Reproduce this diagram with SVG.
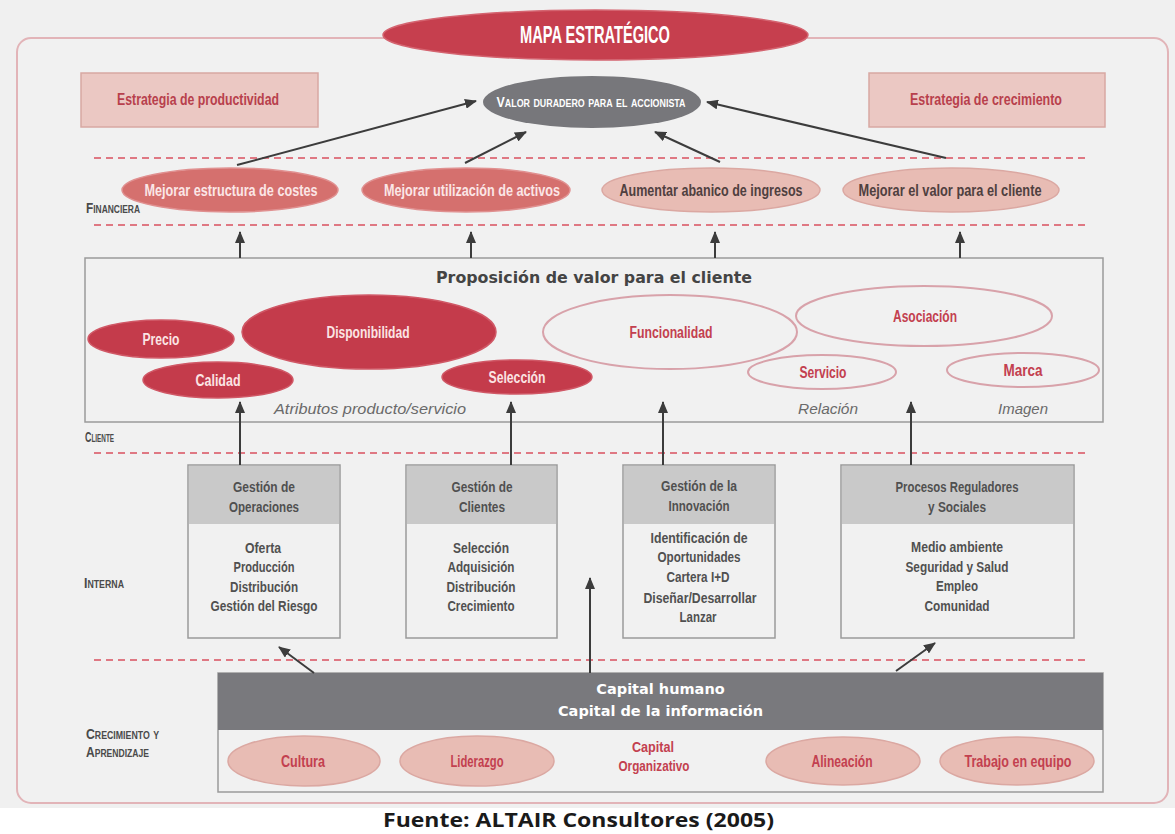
<svg xmlns="http://www.w3.org/2000/svg" width="1175" height="834" viewBox="0 0 1175 834">
<defs>
<style>
.t{font-family:"Liberation Sans",Arial,sans-serif;font-weight:bold;text-anchor:middle}
.lab{font-family:"Liberation Sans",Arial,sans-serif;font-weight:bold;font-variant:small-caps;fill:#4a4a4a;font-size:14px}
.dash{stroke:#d9505f;stroke-width:1.6;stroke-dasharray:7 5;fill:none}
.arr{stroke:#3c3c3c;stroke-width:2;fill:none;marker-end:url(#ah)}
.dred{fill:#c43b4b;stroke:#d05866;stroke-width:1.5}
.sal{fill:#d5706e;stroke:#e09090;stroke-width:1.5}
.pk{fill:#e8bcb4;stroke:#dba8a2;stroke-width:1.5}
.ol{fill:none;stroke:#d8a2aa;stroke-width:2}
.box{fill:#f1f1f1;stroke:#9a9a9a;stroke-width:1.5}
.hdr{fill:#c9c9c9}
.bt{font-family:"Liberation Sans",Arial,sans-serif;font-weight:bold;text-anchor:middle;font-size:14px;fill:#505050}
.it{font-family:"Liberation Sans",Arial,sans-serif;font-style:italic;fill:#6a6a6a;font-size:15px;text-anchor:middle}
</style>
<marker id="ah" viewBox="0 0 12 10" refX="11" refY="5" markerWidth="12" markerHeight="10" markerUnits="userSpaceOnUse" orient="auto">
<path d="M0,0 L12,5 L0,10 z" fill="#3c3c3c"/>
</marker>
</defs>
<rect x="0" y="0" width="1175" height="808" fill="#f0f0f0"/>
<rect x="0" y="808" width="1175" height="26" fill="#ffffff"/>
<rect x="17" y="38" width="1151" height="765" rx="14" ry="14" fill="#f1f1f1" stroke="#e2b4b8" stroke-width="2"/>

<g id="title">
<ellipse cx="595.5" cy="35" rx="212.5" ry="25" fill="#c63f4e" stroke="#d46470" stroke-width="1.5"/>
<text class="t" x="595" y="43" font-size="24" fill="#ffffff" textLength="150" lengthAdjust="spacingAndGlyphs">MAPA ESTRATÉGICO</text>
</g>

<g id="estrategia-productividad">
<rect x="81" y="73" width="237" height="54" fill="#ebc8c3" stroke="#d8a8a3" stroke-width="1.5"/>
<text class="t" x="198" y="105" font-size="17" fill="#b8404c" textLength="162" lengthAdjust="spacingAndGlyphs">Estrategia de productividad</text>
</g>
<g id="estrategia-crecimiento">
<rect x="869" y="73" width="236" height="54" fill="#ebc8c3" stroke="#d8a8a3" stroke-width="1.5"/>
<text class="t" x="986" y="105" font-size="17" fill="#b8404c" textLength="152" lengthAdjust="spacingAndGlyphs">Estrategia de crecimiento</text>
</g>
<g id="valor">
<ellipse cx="592" cy="102" rx="109" ry="26" fill="#77777b"/>
<text class="t" x="591" y="107" font-size="14" fill="#ffffff" style="font-variant:small-caps" textLength="189" lengthAdjust="spacingAndGlyphs">Valor duradero para el accionista</text>
</g>

<g id="separadores">
<line class="dash" x1="94" y1="158" x2="1088" y2="158"/>
<line class="dash" x1="94" y1="225" x2="1088" y2="225"/>
<line class="dash" x1="94" y1="453" x2="1088" y2="453"/>
<line class="dash" x1="94" y1="660" x2="1088" y2="660"/>
</g>

<g id="perspectivas">
<text class="lab" x="86" y="213" textLength="54" lengthAdjust="spacingAndGlyphs">Financiera</text>
<text class="lab" x="85" y="442" textLength="29" lengthAdjust="spacingAndGlyphs">Cliente</text>
<text class="lab" x="84" y="588" textLength="40" lengthAdjust="spacingAndGlyphs">Interna</text>
<text class="lab" x="86" y="739" textLength="73" lengthAdjust="spacingAndGlyphs">Crecimiento y</text>
<text class="lab" x="86" y="757" textLength="63" lengthAdjust="spacingAndGlyphs">Aprendizaje</text>
</g>

<g id="fin-costes">
<ellipse class="sal" cx="230" cy="190" rx="108" ry="22"/>
<text class="t" x="231" y="196" font-size="16" fill="#fbe6e6" textLength="173" lengthAdjust="spacingAndGlyphs">Mejorar estructura de costes</text>
</g>
<g id="fin-activos">
<ellipse class="sal" cx="466" cy="190" rx="104" ry="22"/>
<text class="t" x="472" y="196" font-size="16" fill="#fbe6e6" textLength="176" lengthAdjust="spacingAndGlyphs">Mejorar utilización de activos</text>
</g>
<g id="fin-ingresos">
<ellipse class="pk" cx="711" cy="190" rx="109" ry="22"/>
<text class="t" x="711" y="196" font-size="16" fill="#4f4040" textLength="183" lengthAdjust="spacingAndGlyphs">Aumentar abanico de ingresos</text>
</g>
<g id="fin-valor">
<ellipse class="pk" cx="951" cy="190" rx="108" ry="22"/>
<text class="t" x="950" y="196" font-size="16" fill="#4f4040" textLength="183" lengthAdjust="spacingAndGlyphs">Mejorar el valor para el cliente</text>
</g>

<g id="proposicion">
<rect x="85" y="258" width="1018" height="164" fill="none" stroke="#9a9a9a" stroke-width="1.5"/>
<text x="594" y="283" font-family="'DejaVu Sans','Liberation Sans',sans-serif" font-weight="bold" font-size="16.5" fill="#444444" text-anchor="middle" textLength="316" lengthAdjust="spacingAndGlyphs">Proposición de valor para el cliente</text>
<text class="it" x="370" y="414" textLength="192" lengthAdjust="spacingAndGlyphs">Atributos producto/servicio</text>
<text class="it" x="828" y="414" textLength="60" lengthAdjust="spacingAndGlyphs">Relación</text>
<text class="it" x="1023" y="414" textLength="50" lengthAdjust="spacingAndGlyphs">Imagen</text>
</g>
<g id="precio">
<ellipse class="dred" cx="161" cy="339" rx="73" ry="19"/>
<text class="t" x="161" y="345" font-size="16" fill="#fbe4e4" textLength="37" lengthAdjust="spacingAndGlyphs">Precio</text>
</g>
<g id="disponibilidad">
<ellipse class="dred" cx="369" cy="332" rx="127" ry="37"/>
<text class="t" x="368" y="338" font-size="16" fill="#fbe4e4" textLength="83" lengthAdjust="spacingAndGlyphs">Disponibilidad</text>
</g>
<g id="calidad">
<ellipse class="dred" cx="218" cy="380" rx="75" ry="18"/>
<text class="t" x="218" y="386" font-size="16" fill="#fbe4e4" textLength="45" lengthAdjust="spacingAndGlyphs">Calidad</text>
</g>
<g id="seleccion">
<ellipse class="dred" cx="517" cy="377" rx="75" ry="17"/>
<text class="t" x="517" y="383" font-size="16" fill="#fbe4e4" textLength="57" lengthAdjust="spacingAndGlyphs">Selección</text>
</g>
<g id="funcionalidad">
<ellipse class="ol" cx="670" cy="332" rx="127" ry="37"/>
<text class="t" x="671" y="338" font-size="16" fill="#c3404f" textLength="83" lengthAdjust="spacingAndGlyphs">Funcionalidad</text>
</g>
<g id="asociacion">
<ellipse class="ol" cx="924" cy="316" rx="128" ry="30"/>
<text class="t" x="925" y="322" font-size="16" fill="#c3404f" textLength="64" lengthAdjust="spacingAndGlyphs">Asociación</text>
</g>
<g id="servicio">
<ellipse class="ol" cx="822" cy="372" rx="74" ry="17"/>
<text class="t" x="823" y="378" font-size="16" fill="#c3404f" textLength="47" lengthAdjust="spacingAndGlyphs">Servicio</text>
</g>
<g id="marca">
<ellipse class="ol" cx="1023" cy="370" rx="76" ry="17"/>
<text class="t" x="1023" y="376" font-size="16" fill="#c3404f" textLength="39" lengthAdjust="spacingAndGlyphs">Marca</text>
</g>

<g id="gestion-operaciones">
<rect class="box" x="188" y="465" width="152" height="173"/>
<rect class="hdr" x="189" y="466" width="150" height="58"/>
<text class="bt" x="264" y="492" textLength="62" lengthAdjust="spacingAndGlyphs">Gestión de</text>
<text class="bt" x="264" y="512" textLength="70" lengthAdjust="spacingAndGlyphs">Operaciones</text>
<text class="bt" x="263" y="553" textLength="36" lengthAdjust="spacingAndGlyphs">Oferta</text>
<text class="bt" x="264" y="572" textLength="61" lengthAdjust="spacingAndGlyphs">Producción</text>
<text class="bt" x="264" y="592" textLength="68" lengthAdjust="spacingAndGlyphs">Distribución</text>
<text class="bt" x="264" y="611" textLength="107" lengthAdjust="spacingAndGlyphs">Gestión del Riesgo</text>
</g>
<g id="gestion-clientes">
<rect class="box" x="406" y="465" width="151" height="173"/>
<rect class="hdr" x="407" y="466" width="149" height="58"/>
<text class="bt" x="482" y="492" textLength="61" lengthAdjust="spacingAndGlyphs">Gestión de</text>
<text class="bt" x="482" y="512" textLength="46" lengthAdjust="spacingAndGlyphs">Clientes</text>
<text class="bt" x="481" y="553" textLength="56" lengthAdjust="spacingAndGlyphs">Selección</text>
<text class="bt" x="481" y="572" textLength="67" lengthAdjust="spacingAndGlyphs">Adquisición</text>
<text class="bt" x="481" y="592" textLength="69" lengthAdjust="spacingAndGlyphs">Distribución</text>
<text class="bt" x="481" y="611" textLength="67" lengthAdjust="spacingAndGlyphs">Crecimiento</text>
</g>
<g id="gestion-innovacion">
<rect class="box" x="623" y="465" width="152" height="173"/>
<rect class="hdr" x="624" y="466" width="150" height="58"/>
<text class="bt" x="699" y="491" textLength="76" lengthAdjust="spacingAndGlyphs">Gestión de la</text>
<text class="bt" x="699" y="511" textLength="61" lengthAdjust="spacingAndGlyphs">Innovación</text>
<text class="bt" x="699" y="543" textLength="97" lengthAdjust="spacingAndGlyphs">Identificación de</text>
<text class="bt" x="699" y="562" textLength="83" lengthAdjust="spacingAndGlyphs">Oportunidades</text>
<text class="bt" x="698" y="582" textLength="63" lengthAdjust="spacingAndGlyphs">Cartera I+D</text>
<text class="bt" x="700" y="603" textLength="113" lengthAdjust="spacingAndGlyphs">Diseñar/Desarrollar</text>
<text class="bt" x="698" y="622" textLength="37" lengthAdjust="spacingAndGlyphs">Lanzar</text>
</g>
<g id="procesos-reguladores">
<rect class="box" x="841" y="465" width="233" height="173"/>
<rect class="hdr" x="842" y="466" width="231" height="58"/>
<text class="bt" x="957" y="492" textLength="123" lengthAdjust="spacingAndGlyphs">Procesos Reguladores</text>
<text class="bt" x="957" y="512" textLength="58" lengthAdjust="spacingAndGlyphs">y Sociales</text>
<text class="bt" x="957" y="552" textLength="92" lengthAdjust="spacingAndGlyphs">Medio ambiente</text>
<text class="bt" x="957" y="572" textLength="103" lengthAdjust="spacingAndGlyphs">Seguridad y Salud</text>
<text class="bt" x="957" y="591" textLength="42" lengthAdjust="spacingAndGlyphs">Empleo</text>
<text class="bt" x="957" y="611" textLength="65" lengthAdjust="spacingAndGlyphs">Comunidad</text>
</g>

<g id="capital">
<rect class="box" x="218" y="673" width="885" height="119"/>
<rect x="218" y="673" width="885" height="57" fill="#79797d"/>
<text x="660.5" y="694" font-family="'DejaVu Sans','Liberation Sans',sans-serif" font-weight="bold" font-size="14.5" fill="#ffffff" text-anchor="middle">Capital humano</text>
<text x="660.5" y="716" font-family="'DejaVu Sans','Liberation Sans',sans-serif" font-weight="bold" font-size="14.5" fill="#ffffff" text-anchor="middle">Capital de la información</text>
<text class="t" x="653" y="752" font-size="15" fill="#c3404f" textLength="42" lengthAdjust="spacingAndGlyphs">Capital</text>
<text class="t" x="654" y="771" font-size="15" fill="#c3404f" textLength="71" lengthAdjust="spacingAndGlyphs">Organizativo</text>
</g>
<g id="cultura">
<ellipse class="pk" cx="304" cy="761" rx="76" ry="25"/>
<text class="t" x="303" y="767" font-size="16" fill="#c3404f" textLength="44" lengthAdjust="spacingAndGlyphs">Cultura</text>
</g>
<g id="liderazgo">
<ellipse class="pk" cx="477" cy="761" rx="77" ry="25"/>
<text class="t" x="477" y="767" font-size="16" fill="#c3404f" textLength="53" lengthAdjust="spacingAndGlyphs">Liderazgo</text>
</g>
<g id="alineacion">
<ellipse class="pk" cx="843" cy="761" rx="77" ry="24"/>
<text class="t" x="842" y="767" font-size="16" fill="#c3404f" textLength="61" lengthAdjust="spacingAndGlyphs">Alineación</text>
</g>
<g id="trabajo-equipo">
<ellipse class="pk" cx="1017" cy="761" rx="77" ry="24"/>
<text class="t" x="1018" y="767" font-size="16" fill="#c3404f" textLength="107" lengthAdjust="spacingAndGlyphs">Trabajo en equipo</text>
</g>

<g id="connectors">
<line class="arr" x1="237" y1="165" x2="476" y2="101"/>
<line class="arr" x1="465" y1="163" x2="526" y2="132"/>
<line class="arr" x1="720" y1="162" x2="655" y2="132"/>
<line class="arr" x1="946" y1="158" x2="707" y2="102"/>
<line class="arr" x1="240" y1="258" x2="240" y2="232"/>
<line class="arr" x1="471" y1="258" x2="471" y2="232"/>
<line class="arr" x1="715" y1="258" x2="715" y2="232"/>
<line class="arr" x1="960" y1="258" x2="960" y2="232"/>
<line class="arr" x1="240" y1="465" x2="240" y2="402"/>
<line class="arr" x1="511" y1="465" x2="511" y2="402"/>
<line class="arr" x1="663" y1="465" x2="663" y2="402"/>
<line class="arr" x1="911" y1="465" x2="911" y2="402"/>
<line class="arr" x1="314" y1="673" x2="279" y2="647"/>
<line class="arr" x1="590" y1="673" x2="590" y2="578"/>
<line class="arr" x1="896" y1="671" x2="935" y2="643"/>
</g>

<text x="383" y="827" font-family="'Open Sans','Liberation Sans',sans-serif" font-weight="bold" font-size="20" fill="#1a1a1a" textLength="391" lengthAdjust="spacingAndGlyphs">Fuente: ALTAIR Consultores (2005)</text>
</svg>
